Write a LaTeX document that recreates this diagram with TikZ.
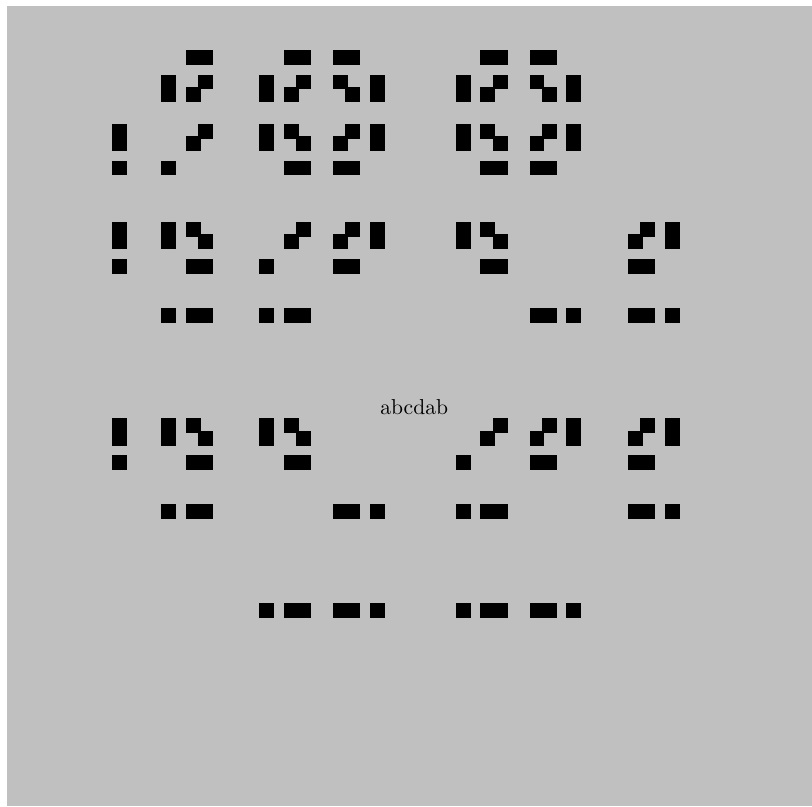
\documentclass[tikz,border=0pt]{standalone}
\usepackage{tikz}
\usepackage{xcolor}
\definecolor{panelgray}{RGB}{192,192,192}

\begin{document}
\begin{tikzpicture}[x=0.2cm, y=-0.2cm,
    blk/.style={fill=black, draw=black, very thick}]
    \useasboundingbox (-9.23,-4.18) rectangle (56.89,61.46);
    \fill[panelgray] (-8.66,-3.69) rectangle (56.89,61.46);

    % first row of glyphs
    \foreach \k/\r in {6/0,7/0, 4/2,4/3, 7/2,6/3, 0/6,0/7, 0/9, 7/6,6/7, 4/9}
        \filldraw[blk] (\k,\r) rectangle ++(1,1);
    \foreach \dx in {12,28}
        \foreach \k/\r in {14/0,15/0,18/0,19/0,
                           12/2,12/3, 15/2,14/3, 18/2,19/3, 21/2,21/3,
                           12/6,12/7, 14/6,15/7, 19/6,18/7, 21/6,21/7,
                           14/9,15/9,18/9,19/9}
            \filldraw[blk] (\k+\dx-12,\r) rectangle ++(1,1);

    % second row
    \foreach \k/\r in {0/14,0/15, 0/17,
                       4/14,4/15, 6/14,7/15, 6/17,7/17, 4/21, 6/21,7/21,
                       12/17, 15/14,14/15, 12/21, 14/21,15/21,
                       19/14,18/15, 21/14,21/15, 18/17,19/17,
                       28/14,28/15, 30/14,31/15, 30/17,31/17,
                       34/21,35/21, 37/21,
                       43/14,42/15, 45/14,45/15, 42/17,43/17, 42/21,43/21, 45/21}
        \filldraw[blk] (\k,\r) rectangle ++(1,1);

    % third row
    \foreach \k/\r in {0/30,0/31, 0/33,
                       4/30,4/31, 6/30,7/31, 6/33,7/33, 4/37, 6/37,7/37,
                       12/30,12/31, 14/30,15/31, 14/33,15/33,
                       18/37,19/37, 21/37,
                       31/30,30/31, 28/33, 28/37, 30/37,31/37,
                       35/30,34/31, 37/30,37/31, 34/33,35/33,
                       43/30,42/31, 45/30,45/31, 42/33,43/33, 42/37,43/37, 45/37}
        \filldraw[blk] (\k,\r) rectangle ++(1,1);

    % bottom row
    \foreach \k in {12,14,15,18,19,21,28,30,31,34,35,37}
        \filldraw[blk] (\k,45) rectangle ++(1,1);

    \node (word) at (24.5,29) {abcdab};
\end{tikzpicture}
\end{document}
